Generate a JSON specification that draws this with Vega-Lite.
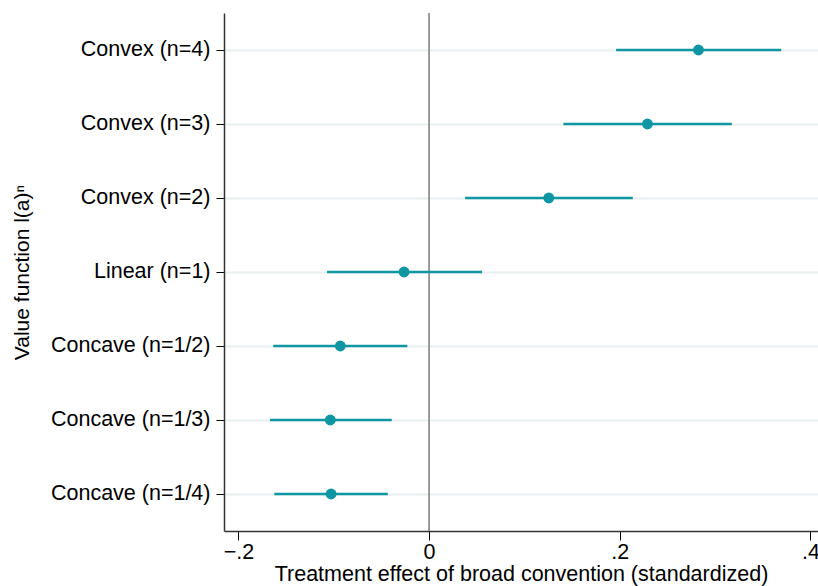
{
  "$schema": "https://vega.github.io/schema/vega-lite/v6.json",
  "autosize": "none",
  "width": 594,
  "height": 518,
  "padding": {"left": 224, "top": 13, "right": 0, "bottom": 55},
  "background": "white",
  "config": {
    "view": {"stroke": null},
    "font": "Liberation Sans"
  },
  "data": {
    "values": [
      {"label": "Convex (n=4)", "est": 0.2826, "lo": 0.1962, "hi": 0.3694},
      {"label": "Convex (n=3)", "est": 0.2291, "lo": 0.1409, "hi": 0.3176},
      {"label": "Convex (n=2)", "est": 0.1256, "lo": 0.0378, "hi": 0.2137},
      {"label": "Linear (n=1)", "est": -0.0262, "lo": -0.107, "hi": 0.0556},
      {"label": "Concave (n=1/2)", "est": -0.0931, "lo": -0.1634, "hi": -0.0228},
      {"label": "Concave (n=1/3)", "est": -0.1036, "lo": -0.1668, "hi": -0.0391},
      {"label": "Concave (n=1/4)", "est": -0.1028, "lo": -0.1623, "hi": -0.0433}
    ]
  },
  "encoding": {
    "y": {
      "field": "label",
      "type": "nominal",
      "sort": null,
      "scale": {"type": "band", "paddingInner": 0, "paddingOuter": 0},
      "axis": {
        "title": "Value function l(a)ⁿ",
        "titleFont": "Liberation Sans",
        "titleFontSize": 21,
        "titleFontWeight": "normal",
        "titleColor": "#000000",
        "titlePadding": 18,
        "labelFont": "Liberation Sans",
        "labelFontSize": 21.5,
        "labelColor": "#000000",
        "labelPadding": 6,
        "tickSize": 8,
        "tickColor": "#000000",
        "tickWidth": 1,
        "domainColor": "#333333",
        "domainWidth": 1.5,
        "grid": true,
        "gridColor": "#eaf0f2",
        "gridWidth": 2
      }
    }
  },
  "layer": [
    {
      "mark": {"type": "rule", "color": "#7a7a7a", "strokeWidth": 1.5},
      "data": {"values": [{"zero": 0}]},
      "encoding": {
        "x": {"field": "zero", "type": "quantitative"},
        "y": null
      }
    },
    {
      "mark": {"type": "rule", "color": "#0f96a3", "strokeWidth": 2.5},
      "encoding": {
        "x": {
          "field": "lo",
          "type": "quantitative",
          "scale": {"domain": [-0.2151, 0.408], "nice": false, "zero": false},
          "axis": {
            "values": [-0.2, 0, 0.2, 0.4],
            "labelExpr": "datum.value == 0 ? '0' : replace(format(datum.value, '.1f'), '0.', '.')",
            "title": "Treatment effect of broad convention (standardized)",
            "titleFont": "Liberation Sans",
            "titleFontSize": 21.5,
            "titleFontWeight": "normal",
            "titleColor": "#000000",
            "titlePadding": 1,
            "labelFont": "Liberation Sans",
            "labelFontSize": 21.5,
            "labelColor": "#000000",
            "labelPadding": 1,
            "labelFlush": false,
            "tickSize": 9,
            "tickColor": "#000000",
            "tickWidth": 1,
            "domainColor": "#333333",
            "domainWidth": 1.5,
            "grid": false
          }
        },
        "x2": {"field": "hi"}
      }
    },
    {
      "mark": {"type": "point", "filled": true, "opacity": 1, "color": "#0f96a3", "size": 120},
      "encoding": {
        "x": {"field": "est", "type": "quantitative"}
      }
    }
  ]
}
